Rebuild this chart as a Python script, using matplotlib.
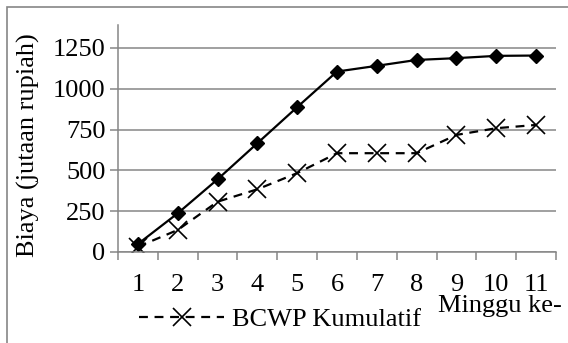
import matplotlib
matplotlib.use("Agg")
import matplotlib.pyplot as plt
from matplotlib.patches import Rectangle

plt.rcParams['font.family'] = ['Liberation Serif', 'DejaVu Serif']

# weekly cumulative cost, millions of rupiah
minggu = [1, 2, 3, 4, 5, 6, 7, 8, 9, 10, 11]
bcws = [49, 237, 445, 666, 887, 1105, 1140, 1176, 1187, 1201, 1203]
bcwp = [32, 135, 308, 384, 483, 605, 605, 605, 717, 758, 778]
yticks = [0, 250, 500, 750, 1000, 1250]

W, H = 568, 343
fs = 19
fig = plt.figure(figsize=(W / 100, H / 100), dpi=100)

# outer chart-area frame
fig.patches.append(Rectangle((7 / W, -0.05), 1.2, (H - 7) / H + 0.05,
                             transform=fig.transFigure, fill=False,
                             edgecolor='#868686', linewidth=1.2))

ax = fig.add_axes([118 / W, (H - 252) / H, 438 / W, 227 / H])

gray = '#868686'
ax.plot(minggu, bcws, color='black', linewidth=1.6, marker='D',
        markersize=7.5, label='BCWS Kumulatif')
ax.plot(minggu, bcwp, color='black', linewidth=1.6, linestyle=(0, (4, 3)),
        marker='x', markersize=13, markeredgewidth=1.2,
        label='BCWP Kumulatif')

ax.set_xlim(0.5, 11.5)
ax.set_ylim(0, 1390)
ax.set_yticks(yticks)
ax.yaxis.grid(True, color=gray, linewidth=1.1)
ax.set_axisbelow(True)

ax.set_xticks(minggu)
ax.set_xticks([x + 0.5 for x in [0] + minggu], minor=True)
ax.tick_params(axis='x', which='major', length=0, pad=16, labelsize=fs)
ax.tick_params(axis='x', which='minor', length=6, color=gray, width=1.1)
ax.tick_params(axis='y', length=6, color=gray, width=1.1, pad=3,
               labelsize=fs)

for side in ['top', 'right']:
    ax.spines[side].set_visible(False)
for side in ['left', 'bottom']:
    ax.spines[side].set_color(gray)
    ax.spines[side].set_linewidth(1.1)

ax.set_ylabel('Biaya (jutaan rupiah)', fontsize=fs)
ax.yaxis.set_label_coords(40 / W, 1 - 145 / H, transform=fig.transFigure)
fig.text(562 / W, 1 - 312 / H, 'Minggu ke-', ha='right', va='baseline',
         fontsize=fs)

handles, labels = ax.get_legend_handles_labels()
ax.legend(handles[1:], labels[1:], loc='center',
          bbox_to_anchor=(280 / W, 1 - 319 / H),
          bbox_transform=fig.transFigure, frameon=False, fontsize=fs,
          handlelength=3.2, handletextpad=0.3, borderpad=0)

fig.savefig('out.png', dpi=100)
